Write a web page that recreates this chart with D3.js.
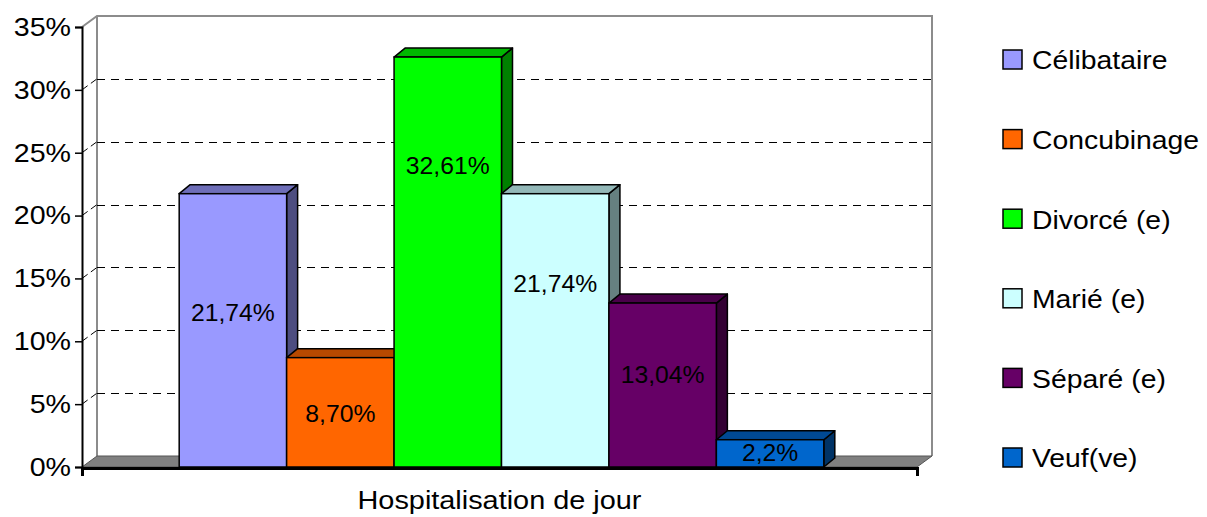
<!DOCTYPE html>
<html>
<head>
<meta charset="utf-8">
<script src="https://cdn.jsdelivr.net/npm/d3@7"></script>
<style>
	html, body { margin: 0; padding: 0; background: #fff; }
	svg { display: block; font-family: "Liberation Sans", Arial, sans-serif; }
</style>
</head>
<body>
<div id="chart"></div>
<script>
// Data
const categories = ['Célibataire', 'Concubinage', 'Divorcé (e)', 'Marié (e)', 'Séparé (e)', 'Veuf(ve)'];
const values = [21.74, 8.70, 32.61, 21.74, 13.04, 2.17];
const valueLabels = ['21,74%', '8,70%', '32,61%', '21,74%', '13,04%', '2,2%'];
const colors = ['#9999FF', '#FF6600', '#00FF00', '#CCFFFF', '#660066', '#0066CC'];
const yTicks = [0, 5, 10, 15, 20, 25, 30, 35];
const xTitle = 'Hospitalisation de jour';

const width = 1207, height = 517;
const plot = { left: 82, right: 917, top: 27, bottom: 467 };
const wall = { dx: 15, dy: -11 };   // back wall offset
const depth = { dx: 11, dy: -9 };   // bar depth
// where Excel placed each data label, as a fraction of bar height
const labelLift = [0.567, 0.494, 0.736, 0.672, 0.563, 0.54];

const svg = d3.select('#chart')
	.append('svg')
	.attr('width', width)
	.attr('height', height);

const y = d3.scaleLinear().domain([0, 35]).range([plot.bottom, plot.top]);

const groupW = (plot.right - plot.left) * 0.772;
const mid = (plot.left + plot.right) / 2 + 2;
const x = d3.scaleBand()
	.domain(categories)
	.range([mid - groupW / 2, mid + groupW / 2])
	.padding(0);

const shade = (c, k) => {
	const r = d3.rgb(c);
	return d3.rgb(r.r * k, r.g * k, r.b * k).formatHex();
};

// the source renders its text a little wider than Liberation Sans
function stretch(sel, k) {
	sel.each(function () {
		const w = this.getComputedTextLength();
		d3.select(this)
			.attr('textLength', w * k)
			.attr('lengthAdjust', 'spacingAndGlyphs');
	});
}

// Back wall outline
const walls = svg.append('g');
walls.append('path')
	.attr('d', `M${plot.left},${y(35)} L${plot.left + wall.dx},${y(35) + wall.dy}
		L${plot.right + wall.dx},${y(35) + wall.dy} L${plot.right + wall.dx},${y(0) + wall.dy}`)
	.attr('fill', 'none')
	.attr('stroke', '#8c8c8c')
	.attr('stroke-width', 2);
walls.append('line')
	.attr('x1', plot.left + wall.dx).attr('x2', plot.left + wall.dx)
	.attr('y1', y(35) + wall.dy).attr('y2', y(0) + wall.dy)
	.attr('stroke', '#8c8c8c')
	.attr('stroke-width', 2);

// Gridlines on the back wall, with their diagonal run on the side wall
const grid = svg.append('g');
grid.selectAll('line.back')
	.data(yTicks.filter(d => d > 0 && d < 35))
	.join('line')
	.attr('class', 'back')
	.attr('x1', plot.left + wall.dx)
	.attr('x2', plot.right + wall.dx)
	.attr('y1', d => Math.round(y(d) + wall.dy) + 0.5)
	.attr('y2', d => Math.round(y(d) + wall.dy) + 0.5)
	.attr('stroke', '#000')
	.attr('stroke-dasharray', '8,6');
grid.selectAll('line.side')
	.data(yTicks.filter(d => d > 0 && d < 35))
	.join('line')
	.attr('class', 'side')
	.attr('x1', plot.left)
	.attr('x2', plot.left + wall.dx)
	.attr('y1', d => y(d))
	.attr('y2', d => y(d) + wall.dy)
	.attr('stroke', '#000')
	.attr('stroke-dasharray', '7,4');

// Floor
svg.append('path')
	.attr('d', `M${plot.left},${y(0)} L${plot.left + wall.dx},${y(0) + wall.dy}
		L${plot.right + wall.dx},${y(0) + wall.dy} L${plot.right},${y(0)} Z`)
	.attr('fill', '#808080')
	.attr('stroke', '#555')
	.attr('stroke-width', 1);

// Bars
const bw = x.bandwidth();
const bars = svg.append('g')
	.selectAll('g')
	.data(categories.map((c, i) => ({ c, v: values[i], color: colors[i], label: valueLabels[i], lift: labelLift[i] })))
	.join('g');

bars.each(function (d) {
	const g = d3.select(this);
	const x0 = x(d.c), x1 = x0 + bw, yt = y(d.v), yb = y(0);
	// side
	g.append('path')
		.attr('d', `M${x1},${yt} L${x1 + depth.dx},${yt + depth.dy} L${x1 + depth.dx},${yb + depth.dy} L${x1},${yb} Z`)
		.attr('fill', shade(d.color, 0.5))
		.attr('stroke', '#000')
		.attr('stroke-width', 1.5)
		.attr('stroke-linejoin', 'round');
	// top
	g.append('path')
		.attr('d', `M${x0},${yt} L${x0 + depth.dx},${yt + depth.dy} L${x1 + depth.dx},${yt + depth.dy} L${x1},${yt} Z`)
		.attr('fill', shade(d.color, 0.72))
		.attr('stroke', '#000')
		.attr('stroke-width', 1.5)
		.attr('stroke-linejoin', 'round');
	// front
	g.append('rect')
		.attr('x', x0)
		.attr('y', yt)
		.attr('width', bw)
		.attr('height', yb - yt)
		.attr('fill', d.color)
		.attr('stroke', '#000')
		.attr('stroke-width', 1.5);
});

bars.append('text')
	.attr('x', d => x(d.c) + bw / 2)
	.attr('y', d => y(d.v * d.lift))
	.attr('dy', '0.36em')
	.attr('text-anchor', 'middle')
	.attr('font-size', 24)
	.attr('fill', '#000')
	.text(d => d.label)
	.call(stretch, 1.03);

// Axes
const yAxis = d3.axisLeft(y)
	.tickValues(yTicks)
	.tickSize(7)
	.tickPadding(4)
	.tickFormat(d => d + '%');

svg.append('g')
	.attr('transform', `translate(${plot.left},0)`)
	.call(yAxis)
	.call(g => g.select('.domain').attr('stroke-width', 2))
	.call(g => g.selectAll('.tick line').attr('stroke-width', 1.5))
	.call(g => g.selectAll('.tick text')
		.attr('font-size', 26)
		.attr('font-family', '"Liberation Sans", Arial, sans-serif')
		.attr('fill', '#000')
		.call(stretch, 1.1));

const xAxis = d3.axisBottom(d3.scaleLinear().domain([0, 1]).range([plot.left, plot.right]))
	.tickValues([0, 1])
	.tickSize(8)
	.tickFormat('');

svg.append('g')
	.attr('transform', `translate(0,${y(0) + 1})`)
	.call(xAxis)
	.call(g => g.select('.domain').attr('stroke-width', 3))
	.call(g => g.selectAll('.tick line').attr('stroke-width', 1.5));

svg.append('text')
	.attr('x', (plot.left + plot.right) / 2)
	.attr('y', 509)
	.attr('text-anchor', 'middle')
	.attr('font-size', 26)
	.text(xTitle)
	.call(stretch, 1.11);

// Legend
const legend = svg.append('g')
	.selectAll('g')
	.data(categories)
	.join('g')
	.attr('transform', (d, i) => `translate(1003,${60 + i * 79.6})`);

legend.append('rect')
	.attr('x', 0)
	.attr('y', -10)
	.attr('width', 19)
	.attr('height', 19)
	.attr('fill', (d, i) => colors[i])
	.attr('stroke', '#000')
	.attr('stroke-width', 1.5);

legend.append('text')
	.attr('x', 29)
	.attr('dy', '0.36em')
	.attr('font-size', 26)
	.text(d => d)
	.call(stretch, 1.09);
</script>
</body>
</html>
